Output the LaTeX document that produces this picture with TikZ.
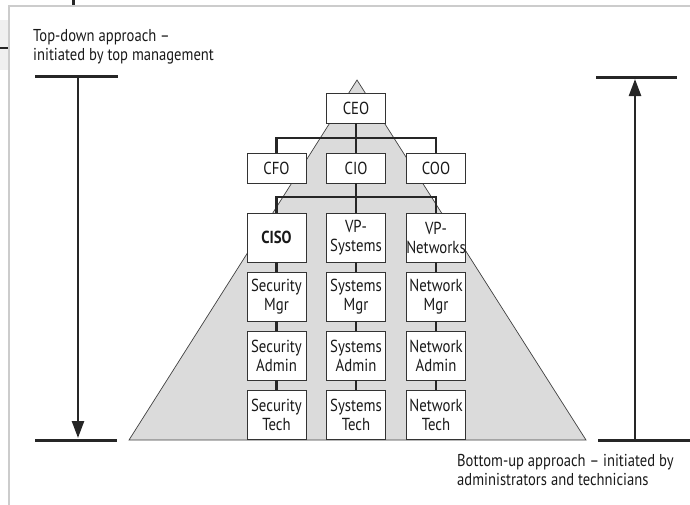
\documentclass[tikz,border=0pt]{standalone}
\usepackage{fontspec}
\setmainfont{PT Sans}[FakeStretch=0.85]
\usetikzlibrary{arrows.meta,positioning}

\tikzset{
  orgbox/.style={draw=black!80, fill=white, line width=0.8pt, minimum width=59pt,
    align=center, inner sep=0pt, text=black!90, font=\fontsize{17.4}{19}\selectfont},
  onebox/.style={orgbox, minimum height=30pt},
  twobox/.style={orgbox, minimum height=49pt},
  link/.style={line width=2.6pt, black!85},
  bar/.style={line width=3pt, black!85},
  label/.style={anchor=north west, align=left, inner sep=0pt, text=black!90,
    font=\fontsize{17.2}{19.3}\selectfont},
}

\begin{document}
\begin{tikzpicture}[x=1pt,y=-1pt]
    \useasboundingbox (0,0) rectangle (690,504);

    % page edge
    \fill[black!6] (0,20) rectangle (8,70);
    \draw[black!20, line width=2pt] (9,505) -- (9,6) -- (691,6);
    \draw[black!85, line width=2pt] (0,48) -- (8,48);
    \draw[black!85, line width=3pt] (73,-1) -- (73,5);

    % the pyramid
    \draw[fill=black!14, draw=black!75, line width=0.7pt] (357,80) -- (129,440) -- (586,440) -- cycle;

    % top of the chart
    \node[onebox] (ceo) at (356,108) {CEO};
    \node[onebox] (cfo) at (276.5,168) {CFO};
    \node[onebox] (cio) at (356,168) {CIO};
    \node[onebox] (coo) at (436,168) {COO};

    % three columns below the CIO
    \node[twobox] (ciso) at (276.5,237.5) {\textbf{CISO}};
    \node[twobox] (vpsys) at (356,237.5) {VP-\\Systems};
    \node[twobox] (vpnet) at (436,237.5) {VP-\\Networks};

    \node[twobox] (secmgr) at (276.5,296.5) {Security\\Mgr};
    \node[twobox] (sysmgr) at (356,296.5) {Systems\\Mgr};
    \node[twobox] (netmgr) at (436,296.5) {Network\\Mgr};

    \node[twobox] (secadm) at (276.5,355.5) {Security\\Admin};
    \node[twobox] (sysadm) at (356,355.5) {Systems\\Admin};
    \node[twobox] (netadm) at (436,355.5) {Network\\Admin};

    \node[twobox] (sectech) at (276.5,415) {Security\\Tech};
    \node[twobox] (systech) at (356,415) {Systems\\Tech};
    \node[twobox] (nettech) at (436,415) {Network\\Tech};

    % reporting lines
    \coordinate (j1) at (356,138);
    \coordinate (j2) at (356,197);
    \draw[link] (ceo.south) -- (j1) -- (cio.north);
    \draw[link] (cfo.north) |- (j1) -| (coo.north);
    \draw[link] (cio.south) -- (j2) -- (vpsys.north);
    \draw[link] (ciso.north) |- (j2) -| (vpnet.north);

    \draw[link] (ciso) -- (secmgr) (secmgr) -- (secadm) (secadm) -- (sectech);
    \draw[link] (vpsys) -- (sysmgr) (sysmgr) -- (sysadm) (sysadm) -- (systech);
    \draw[link] (vpnet) -- (netmgr) (netmgr) -- (netadm) (netadm) -- (nettech);

    % top-down
    \node[label] (topdown) at (33,29) {Top-down approach –\\initiated by top management};
    \coordinate (tdtop) at (78,76);
    \coordinate (tdbot) at (78,440);
    \draw[bar] (35,76) -- (118,76);
    \draw[bar] (35,440) -- (117,440);
    \draw[line width=2.4pt, black!85, -{Triangle[length=17pt,width=12pt]}] (tdtop) -- ([yshift=2pt]tdbot);

    % bottom-up
    \node[label] (bottomup) at (457,454) {Bottom-up approach – initiated by\\administrators and technicians};
    \coordinate (butop) at (635,77);
    \coordinate (bubot) at (635,440);
    \draw[bar] (596,77) -- (677,77);
    \draw[bar] (598,440) -- (691,440);
    \draw[line width=2.4pt, black!85, -{Triangle[length=17pt,width=12pt]}] (bubot) -- ([yshift=-2pt]butop);
\end{tikzpicture}
\end{document}
